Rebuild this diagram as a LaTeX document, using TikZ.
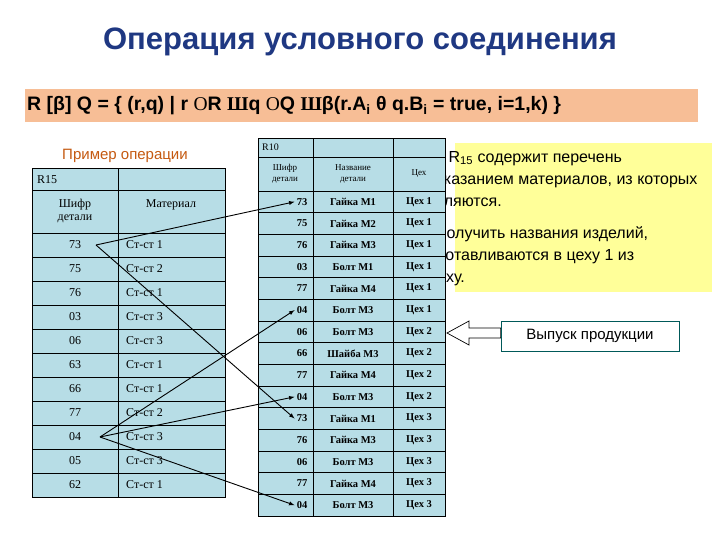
\documentclass[tikz,border=0pt]{standalone}
\usepackage{fontspec}
\setmainfont{Liberation Sans}
\newfontfamily\tms{Liberation Serif}
\begin{document}
\begin{tikzpicture}[x=1pt,y=-1pt,
  cell/.style={draw=black,line width=0.6pt,fill=cellblue},
  ct/.style={font=\tms\fontsize{12}{13}\selectfont,inner sep=0pt},
  rt/.style={font=\tms\bfseries\fontsize{10.5}{12}\selectfont,inner sep=0pt},
  arr/.style={-latex,line width=0.9pt}]
\definecolor{cellblue}{RGB}{183,221,230}
\definecolor{ttl}{RGB}{31,56,130}
\definecolor{salmon}{RGB}{247,190,150}
\definecolor{yel}{RGB}{255,255,153}
\definecolor{brn}{RGB}{197,90,17}
\useasboundingbox[fill=white] (0,0) rectangle (720,540);
\node[font=\bfseries\fontsize{31}{34}\selectfont,text=ttl] (title) at (360,42) {Операция условного соединения};
\fill[salmon] (25,89) rectangle (698,122);
\node[font=\bfseries\fontsize{19.5}{22}\selectfont,anchor=west,inner sep=0pt] (formula) at (27,106)
 {R [β] Q = \{ (r,q) | r {\tms\mdseries О}R {\tms Ш}q {\tms\mdseries О}Q {\tms Ш}β(r.A\textsubscript{i} θ q.B\textsubscript{i} = true, i=1,k) \}};
% yellow box
\fill[yel] (455,143) rectangle (712,292);
\node[anchor=north west,align=left,font=\fontsize{16}{22}\selectfont,inner sep=0pt] (ytext) at (358,151)
 {Отношение R\textsubscript{15} содержит перечень\\деталей с указанием материалов, из которых\\они изготовляются.\\[10pt]Требуется получить названия изделий,\\которые изготавливаются в цеху 1 из\\Ст-ст 1 в цеху.};
% left table
\node[font=\fontsize{15}{17}\selectfont,text=brn] (ex) at (125,156) {Пример операции};
\draw[cell] (32,168) rectangle (118,190); \draw[cell] (118,168) rectangle (225,190);
\node[ct,anchor=west] (r15) at (37,180) {R15};
\draw[cell] (32,190) rectangle (118,233); \draw[cell] (118,190) rectangle (225,233);
\node[ct,align=center] (h1) at (75,211) {Шифр\\детали};
\node[ct] (h2) at (171,205) {Материал};
\foreach \c/\m [count=\i from 0] in {73/Ст-ст 1,75/Ст-ст 2,76/Ст-ст 1,03/Ст-ст 3,06/Ст-ст 3,63/Ст-ст 1,66/Ст-ст 1,77/Ст-ст 2,04/Ст-ст 3,05/Ст-ст 3,62/Ст-ст 1}{
  \draw[cell] (32,233+24*\i) rectangle (118,257+24*\i);
  \draw[cell] (118,233+24*\i) rectangle (225,257+24*\i);
  \node[ct] (lc\i) at (75,245+24*\i) {\c};
  \node[ct,anchor=west] (lm\i) at (126,245+24*\i) {\m};
}
% right table
\draw[cell] (258,138) rectangle (313,157); \draw[cell] (313,138) rectangle (393,157); \draw[cell] (393,138) rectangle (445,157);
\node[ct,anchor=west,font=\tms\fontsize{10}{11}\selectfont] (r10) at (262,147) {R10};
\draw[cell] (258,157) rectangle (313,191); \draw[cell] (313,157) rectangle (393,191); \draw[cell] (393,157) rectangle (445,191);
\node[ct,align=center,font=\tms\fontsize{9}{11}\selectfont] (k1) at (285,174) {Шифр\\детали};
\node[ct,align=center,font=\tms\fontsize{9}{11}\selectfont] (k2) at (353,174) {Название\\детали};
\node[ct,font=\tms\fontsize{9}{11}\selectfont] (k3) at (419,174) {Цех};
\foreach \c/\n/\w [count=\i from 0] in {73/Гайка М1/1,75/Гайка М2/1,76/Гайка М3/1,03/Болт М1/1,77/Гайка М4/1,04/Болт М3/1,06/Болт М3/2,66/Шайба М3/2,77/Гайка М4/2,04/Болт М3/2,73/Гайка М1/3,76/Гайка М3/3,06/Болт М3/3,77/Гайка М4/3,04/Болт М3/3}{
  \draw[cell] (258,191+21.67*\i) rectangle (313,212.67+21.67*\i);
  \draw[cell] (313,191+21.67*\i) rectangle (393,212.67+21.67*\i);
  \draw[cell] (393,191+21.67*\i) rectangle (445,212.67+21.67*\i);
  \node[rt] (rc\i) at (302,201.8+21.67*\i) {\c};
  \node[rt] (rn\i) at (353,201.8+21.67*\i) {\n};
  \node[rt] (rw\i) at (419,201.8+21.67*\i) {Цех \w};
}
% connectors
\coordinate (a73) at (96,245);
\coordinate (a04) at (100,437);
\draw[arr] (a73) -- ([xshift=-2pt]rc0.west);
\draw[arr] (a73) -- ([xshift=-2pt]rc10.west);
\draw[arr] (a04) -- ([xshift=-2pt]rc5.west);
\draw[arr] (a04) -- ([xshift=-2pt]rc9.west);
\draw[arr] (a04) -- ([xshift=-2pt]rc14.west);
% callout
\node[draw=teal!70!black,fill=white,line width=0.8pt,minimum width=178pt,minimum height=30pt,font=\fontsize{15}{17}\selectfont] (vyp) at (590,336) {Выпуск продукции};
\coordinate (tip) at (447,333);
\draw[line width=0.7pt,fill=white] (tip) -- (469,321) -- (469,328) -- (vyp.west |- 0,328) -- (vyp.west |- 0,338) -- (469,338) -- (469,345) -- cycle;
\end{tikzpicture}
\end{document}
